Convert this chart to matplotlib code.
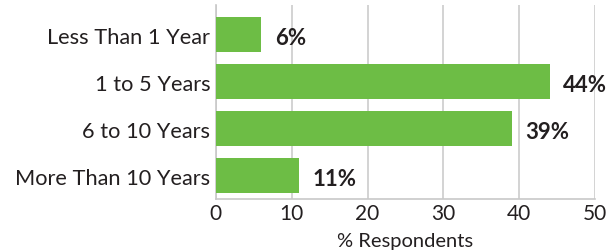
import matplotlib.pyplot as plt

# --- dane ---
kategorie = ["Less Than 1 Year", "1 to 5 Years", "6 to 10 Years", "More Than 10 Years"]
wartosci = [6, 44, 39, 11]
etykiety = ["6%", "44%", "39%", "11%"]

plt.rcParams["font.family"] = ["Lato", "DejaVu Sans"]

fig = plt.figure(figsize=(6.15, 2.53), dpi=100)
ax = fig.add_axes([0.351, 0.209, 0.9675 - 0.351, 0.976 - 0.209])

poz = list(range(len(kategorie)))
ax.barh(poz, wartosci, height=0.75, color="#6dbd45", zorder=3)

for i in range(len(wartosci)):
    ax.text(wartosci[i] + 1.8, poz[i] + 0.06, etykiety[i], fontsize=16,
            fontweight="bold", color="#231f20", va="center", ha="left")

ax.set_xlim(0, 50)
ax.set_ylim(3.5, -0.63)
ax.set_xticks([0, 10, 20, 30, 40, 50])
ax.set_yticks(poz)
ax.set_yticklabels(kategorie, fontsize=15.7, color="#231f20")
ax.tick_params(axis="x", labelsize=15, labelcolor="#231f20", length=0, pad=3)
ax.tick_params(axis="y", length=0, pad=4)
ax.xaxis.grid(True, color="#cccccc", linewidth=1.2, zorder=0)
for s in ["top", "right"]:
    ax.spines[s].set_visible(False)
for s in ["left", "bottom"]:
    ax.spines[s].set_color("#c8c8c8")
    ax.spines[s].set_linewidth(1.2)
ax.set_xlabel("% Respondents", fontsize=14.5, color="#231f20", labelpad=6)

fig.savefig("out.png", dpi=100)
